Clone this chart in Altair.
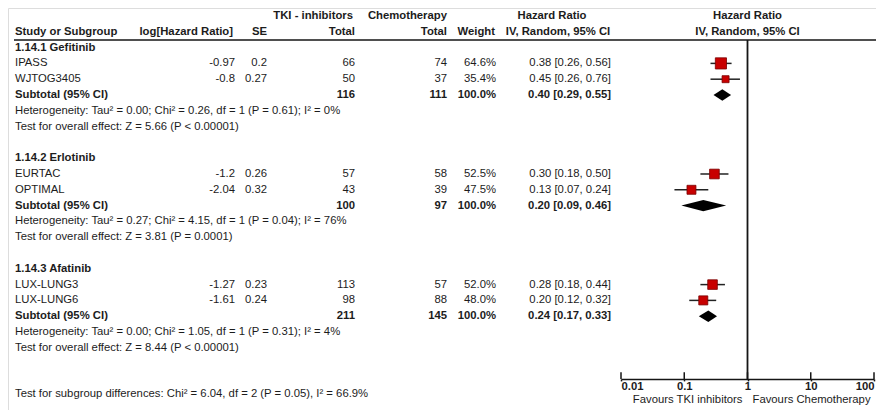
import altair as alt
import pandas as pd

# ------------------------------------------------------------------ data
subgroups = ["1.14.1 Gefitinib", "1.14.2 Erlotinib", "1.14.3 Afatinib"]
studies = ["IPASS", "WJTOG3405", "EURTAC", "OPTIMAL", "LUX-LUNG3", "LUX-LUNG6"]
study_group = [0, 0, 1, 1, 2, 2]
log_hr = [-0.97, -0.8, -1.2, -2.04, -1.27, -1.61]
se = [0.2, 0.27, 0.26, 0.32, 0.23, 0.24]
n_tki = [66, 50, 57, 43, 113, 98]
n_chemo = [74, 37, 58, 39, 57, 88]
weight = [64.6, 35.4, 52.5, 47.5, 52.0, 48.0]
hr = [0.38, 0.45, 0.30, 0.13, 0.28, 0.20]
hr_lo = [0.26, 0.26, 0.18, 0.07, 0.18, 0.12]
hr_hi = [0.56, 0.76, 0.50, 0.24, 0.44, 0.32]
sub_n_tki = [116, 100, 211]
sub_n_chemo = [111, 97, 145]
sub_hr = [0.40, 0.20, 0.24]
sub_lo = [0.29, 0.09, 0.17]
sub_hi = [0.55, 0.46, 0.33]
heterogeneity = [
    "Heterogeneity: Tau² = 0.00; Chi² = 0.26, df = 1 (P = 0.61); I² = 0%",
    "Heterogeneity: Tau² = 0.27; Chi² = 4.15, df = 1 (P = 0.04); I² = 76%",
    "Heterogeneity: Tau² = 0.00; Chi² = 1.05, df = 1 (P = 0.31); I² = 4%",
]
overall = [
    "Test for overall effect: Z = 5.66 (P < 0.00001)",
    "Test for overall effect: Z = 3.81 (P = 0.0001)",
    "Test for overall effect: Z = 8.44 (P < 0.00001)",
]
subgroup_diff = "Test for subgroup differences: Chi² = 6.04, df = 2 (P = 0.05), I² = 66.9%"
x_ticks = [0.01, 0.1, 1, 10, 100]
favours = ["Favours TKI inhibitors", "Favours Chemotherapy"]

# ------------------------------------------------------------------ layout / style
W, H = 868, 402
ROW = 15.8          # px per row
Y0 = -2.506         # row index at top of plot area
FONT = "Liberation Sans"
FS = 11.3
TXT = "#1c1c1c"
LINE = "#151515"
XL, XR = 613, 866   # pixel range of the forest-plot log axis
X1 = (XL + XR) / 2  # position of HR = 1

yscale = alt.Scale(domain=[Y0, Y0 + H / ROW], reverse=True, nice=False, zero=False)
xscale = alt.Scale(type="log", domain=[0.01, 100], range=[XL, XR], nice=False)

AXIS_ROW = 20.97
HEADER_ROW = -0.48
axis_px = (AXIS_ROW - Y0) * ROW

xaxis = alt.Axis(values=x_ticks, format="~g", orient="bottom", offset=axis_px - H,
                 grid=False, domainColor=LINE, domainWidth=1.5, tickColor=LINE,
                 tickWidth=1.5, tickSize=2, labelFlush=True, labelFont=FONT,
                 labelFontSize=FS, labelFontWeight="bold", labelColor=TXT,
                 labelPadding=0, title=None)

# ------------------------------------------------------------------ tables
rows = []
for g in range(3):
    base = 7 * g
    rows.append(dict(row=base, label=subgroups[g], kind="heading"))
    idx = [i for i in range(len(studies)) if study_group[i] == g]
    for k, i in enumerate(idx):
        rows.append(dict(row=base + 1 + k, label=studies[i], kind="study",
                         loghr=str(log_hr[i]), se=str(se[i]), ntki=str(n_tki[i]),
                         nchemo=str(n_chemo[i]), wt=f"{weight[i]:.1f}%",
                         hrtxt=f"{hr[i]:.2f} [{hr_lo[i]:.2f}, {hr_hi[i]:.2f}]",
                         hr=hr[i], lo=hr_lo[i], hi=hr_hi[i], weight=weight[i]))
    rows.append(dict(row=base + 3, label="Subtotal (95% CI)", kind="subtotal",
                     ntki=str(sub_n_tki[g]), nchemo=str(sub_n_chemo[g]), wt="100.0%",
                     hrtxt=f"{sub_hr[g]:.2f} [{sub_lo[g]:.2f}, {sub_hi[g]:.2f}]"))
    rows.append(dict(row=base + 4, label=heterogeneity[g], kind="note"))
    rows.append(dict(row=base + 5, label=overall[g], kind="note"))
rows.append(dict(row=21.95, label=subgroup_diff, kind="note"))
table = pd.DataFrame(rows)
study_tbl = table[table["kind"] == "study"][["row", "hr", "lo", "hi", "weight"]]

DH = 0.36
dia = []
for g in range(3):
    r = 7 * g + 3
    for xv, k in [(sub_lo[g], 0), (sub_hr[g], 1), (sub_hi[g], 0)]:
        dia.append(dict(g=g, x=xv, y=r - k * DH, y2=r + k * DH))
dia = pd.DataFrame(dia)

Y = lambda f="row": alt.Y(f"{f}:Q", scale=yscale, axis=None)


def col_text(field, x, align, kinds, bold=False):
    return alt.Chart(table).transform_filter(
        alt.FieldOneOfPredicate(field="kind", oneOf=kinds)
    ).mark_text(align=align, baseline="middle", font=FONT, fontSize=FS,
                fontWeight="bold" if bold else "normal", color=TXT).encode(
        x=alt.value(x), y=Y(), text=f"{field}:N")


def fixed_text(text, row, x, align, bold=True):
    return alt.Chart(pd.DataFrame({"row": [row], "t": [text]})).mark_text(
        align=align, baseline="middle", font=FONT, fontSize=FS,
        fontWeight="bold" if bold else "normal", color=TXT).encode(
        x=alt.value(x), y=Y(), text="t:N")


layers = []
# headers
layers += [
    fixed_text("TKI - inhibitors", -2, 345, "right"),
    fixed_text("Chemotherapy", -2, 439, "right"),
    fixed_text("Hazard Ratio", -2, 544, "center"),
    fixed_text("Hazard Ratio", -2, X1, "center"),
    fixed_text("Study or Subgroup", -1, 7, "left"),
    fixed_text("log[Hazard Ratio]", -1, 225, "right"),
    fixed_text("SE", -1, 259, "right"),
    fixed_text("Total", -1, 347, "right"),
    fixed_text("Total", -1, 439, "right"),
    fixed_text("Weight", -1, 487, "right"),
    fixed_text("IV, Random, 95% CI", -1, 550, "center"),
    fixed_text("IV, Random, 95% CI", -1, X1, "center"),
    fixed_text(favours[0], 22.32, X1 - 5, "right", bold=False),
    fixed_text(favours[1], 22.32, X1 + 5, "left", bold=False),
]
# header line
layers.append(alt.Chart(pd.DataFrame({"row": [HEADER_ROW]})).mark_rule(
    color=LINE, strokeWidth=1.5).encode(x=alt.value(6), x2=alt.value(W), y=Y()))

# table text
layers += [
    col_text("label", 7, "left", ["study", "note"]),
    col_text("label", 7, "left", ["heading", "subtotal"], bold=True),
    col_text("loghr", 227, "right", ["study"]),
    col_text("se", 259, "right", ["study"]),
    col_text("ntki", 347, "right", ["study"]),
    col_text("ntki", 347, "right", ["subtotal"], bold=True),
    col_text("nchemo", 439, "right", ["study"]),
    col_text("nchemo", 439, "right", ["subtotal"], bold=True),
    col_text("wt", 488, "right", ["study"]),
    col_text("wt", 488, "right", ["subtotal"], bold=True),
    col_text("hrtxt", 603, "right", ["study"]),
    col_text("hrtxt", 603, "right", ["subtotal"], bold=True),
]

# forest plot
vline = alt.Chart(pd.DataFrame({"x": [1], "y": [HEADER_ROW], "y2": [AXIS_ROW]})).mark_rule(
    color=LINE, strokeWidth=1.8).encode(
    x=alt.X("x:Q", scale=xscale, axis=xaxis), y=Y("y"), y2="y2:Q")
upticks = alt.Chart(pd.DataFrame({"x": x_ticks, "y": [20.55] * 5, "y2": [AXIS_ROW] * 5})).mark_rule(
    color=LINE, strokeWidth=1.5).encode(
    x=alt.X("x:Q", scale=xscale, axis=xaxis), y=Y("y"), y2="y2:Q")
ci = alt.Chart(study_tbl).mark_rule(color="#222222", strokeWidth=1.5).encode(
    x=alt.X("lo:Q", scale=xscale, axis=xaxis), x2="hi:Q", y=Y())
squares = alt.Chart(study_tbl).mark_square(
    filled=True, color="#c80000", stroke="#7a0000", strokeWidth=0.8, opacity=1).encode(
    x=alt.X("hr:Q", scale=xscale, axis=xaxis), y=Y(),
    size=alt.Size("weight:Q", scale=alt.Scale(domain=[35.4, 64.6], range=[49, 125], zero=False),
                  legend=None))
diamonds = alt.Chart(dia).mark_area(color="#000000", orient="vertical", opacity=1).encode(
    x=alt.X("x:Q", scale=xscale, axis=xaxis), y=Y("y"), y2="y2:Q", detail="g:N")

layers += [vline, upticks, ci, squares, diamonds]

chart = alt.layer(*layers).properties(
    width=W, height=H, padding=0, autosize=alt.AutoSizeParams(type="none")
).configure_view(stroke=None).configure(background="white")

chart.save("out.html", embed_options={"renderer": "svg", "actions": False})
